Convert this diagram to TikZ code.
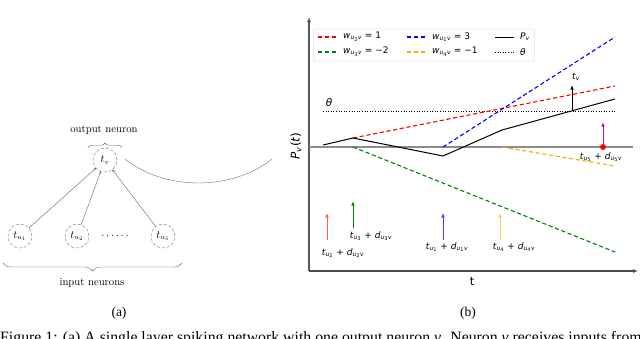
\documentclass[tikz,border=0pt]{standalone}
\usepackage{amsmath}
\usepackage{fontspec}
\usetikzlibrary{arrows.meta,decorations.pathreplacing}
\newfontfamily\dvs{DejaVu Sans}
\newfontfamily\tms{Liberation Serif}
\newcommand\vi[1]{\textit{#1}}
\definecolor{mplgreen}{RGB}{0,128,0}
\definecolor{mplorange}{RGB}{255,165,0}
\definecolor{mplpurple}{RGB}{150,30,170}
\definecolor{mplred}{RGB}{255,0,0}
\definecolor{mplblue}{RGB}{0,0,255}
\tikzset{
  neuron/.style={circle, draw=black!55, densely dashed, thin, minimum size=24pt, inner sep=0pt, font=\fontsize{10.7}{12}\selectfont},
  cmtext/.style={font=\fontsize{10.7}{12}\selectfont, inner sep=0pt},
  syn/.style={draw=black!60, thin, -{To[length=2.5pt,width=2.5pt]}},
  plt/.style={line width=1pt},
  dsh/.style={line width=1.1pt, dash pattern=on 4.2pt off 2.6pt},
  dotl/.style={line width=1pt, dash pattern=on 1pt off 1.6pt},
  ptxt/.style={font=\dvs\fontsize{9}{10}\selectfont, inner sep=0pt},
  parr/.style={line width=0.8pt, -{Latex[length=4.5pt,width=3.5pt]}},
  captxt/.style={font=\tms\fontsize{13.5}{15}\selectfont, inner sep=0pt},
  longcap/.style={font=\tms\fontsize{15.8}{17}\selectfont, inner sep=0pt}
}
\begin{document}
\begin{tikzpicture}[x=1pt,y=-1pt]
\useasboundingbox (0,0) rectangle (640,338);
\clip (0,0) rectangle (640,338);
\fill[white] (0,0) rectangle (640,338);

% ---------- panel (a) ----------
\node[cmtext] (outlbl) at (104,130) {output neuron};
\node[neuron] (tv) at (105,160) {$t_v$};
\node[neuron] (tu1) at (20,236) {$t_{u_1}$};
\node[neuron] (tu2) at (77,236) {$t_{u_2}$};
\node[neuron] (tu5) at (163,236) {$t_{u_5}$};
\node[cmtext] (dots) at (115,236) {$\ldots\ldots$};
\draw[syn] (tu1) -- (tv);
\draw[syn] (tu2) -- (tv);
\draw[syn] (tu5) -- (tv);
\draw[black!60, thin, decorate, decoration={brace, amplitude=4.5pt}] (88,147.5) -- (122,147.5);
\draw[black!60, thin, decorate, decoration={brace, amplitude=8pt}] (182,263) -- (3,263);
\node[cmtext] (inlbl) at (92,283) {input neurons};
\coordinate (arcA) at (125,159);
\coordinate (arcB) at (272,159);
\draw[black!55, thin] (arcA) .. controls (165,191) and (232,191) .. (arcB);

% ---------- panel (b) ----------
% axes
\coordinate (orig) at (309,271);
\coordinate (ytop) at (309,17);
\coordinate (xend) at (638,271);
\draw[black!65, line width=1.1pt, -{Latex[length=5pt,width=4pt]}] (orig) -- (ytop);
\draw[black!70, line width=1.4pt, -{Latex[length=5pt,width=4pt]}] (orig) -- (xend);
\coordinate (z0) at (309,147);
\coordinate (z1) at (633,147);
\draw[black!45, line width=1.4pt] (z0) -- (z1);

% legend box
\node[draw=black!20, rounded corners=2.5pt, fill=white, minimum width=221pt, minimum height=32pt, inner sep=0pt] (leg) at (424,45) {};

% threshold
\coordinate (th0) at (323,111);
\coordinate (th1) at (615,111);
\draw[dotl] (th0) -- (th1);
\node[font=\dvs\fontsize{10.5}{12}\selectfont, inner sep=0pt] (thlbl) at (329,103) {\vi{θ}};

% component lines
\draw[dsh, draw=mplred] (353,138) -- (615,86);
\draw[dsh, draw=mplblue] (443,147) -- (615,37);
\draw[dsh, draw=mplgreen] (353,147) -- (615,252);
\draw[dsh, draw=mplorange] (502,147) -- (615,166);
% membrane potential
\draw[plt, black] (323,145) -- (353,138) -- (443,156) -- (502,130) -- (615,99);

% spike t_v
\coordinate (tvb) at (572,111);
\coordinate (tvt) at (572,85);
\draw[parr, black] (tvb) -- (tvt);
\node[ptxt] (tvlbl) at (576,77) {\vi{t}$_{\vi{v}}$};

% u5 event
\coordinate (u5b) at (603,146);
\coordinate (u5t) at (603,122);
\draw[parr, mplpurple] (u5b) -- (u5t);
\fill[mplred] (603,147) circle (3pt);
\node[ptxt] (u5lbl) at (601,157) {\vi{t}$_{\vi{u}_{\text{5}}}$ + \vi{d}$_{\vi{u}_{\text{5}}\vi{v}}$};

% input arrows
\coordinate (ra) at (327,240); \coordinate (rb) at (327,213);
\draw[parr, mplred!65, line width=0.7pt] (ra) -- (rb);
\node[ptxt] (rlbl) at (343,253) {\vi{t}$_{\vi{u}_{\text{2}}}$ + \vi{d}$_{\vi{u}_{\text{2}}\vi{v}}$};

\coordinate (ga) at (353,228); \coordinate (gb) at (353,201);
\draw[parr, mplgreen] (ga) -- (gb);
\node[ptxt] (glbl) at (371,236) {\vi{t}$_{\vi{u}_{\text{3}}}$ + \vi{d}$_{\vi{u}_{\text{3}}\vi{v}}$};

\coordinate (ba) at (443,240); \coordinate (bb) at (443,213);
\draw[parr, mplblue!75, line width=0.7pt] (ba) -- (bb);
\node[ptxt] (blbl) at (447,247) {\vi{t}$_{\vi{u}_{\text{1}}}$ + \vi{d}$_{\vi{u}_{\text{1}}\vi{v}}$};

\coordinate (oa) at (500,240); \coordinate (ob) at (500,213);
\draw[parr, mplorange!65, line width=0.7pt] (oa) -- (ob);
\node[ptxt] (olbl) at (514,247) {\vi{t}$_{\vi{u}_{\text{4}}}$ + \vi{d}$_{\vi{u}_{\text{4}}\vi{v}}$};

% axis labels
\node[font=\dvs\fontsize{12}{13}\selectfont, inner sep=0pt, rotate=90] (ylbl) at (296,146) {\vi{P}$_{\vi{v}}$(\vi{t})};
\node[font=\dvs\fontsize{11.5}{12}\selectfont, inner sep=0pt] (xlbl) at (472,281) {t};

% legend entries
\draw[dsh, draw=mplred] (318,37) -- (337,37);
\node[ptxt, anchor=west] (l1) at (343,37) {\vi{w}$_{\vi{u}_{\text{2}}\vi{v}}$ = 1};
\draw[dsh, draw=mplblue] (407,37) -- (426,37);
\node[ptxt, anchor=west] (l2) at (432,37) {\vi{w}$_{\vi{u}_{\text{1}}\vi{v}}$ = 3};
\draw[plt, black] (495,37) -- (514,37);
\node[ptxt, anchor=west] (l3) at (520,37) {\vi{P}$_{\vi{v}}$};
\draw[dsh, draw=mplgreen] (318,52) -- (337,52);
\node[ptxt, anchor=west] (l4) at (343,52) {\vi{w}$_{\vi{u}_{\text{3}}\vi{v}}$ = −2};
\draw[dsh, draw=mplorange] (407,52) -- (426,52);
\node[ptxt, anchor=west] (l5) at (432,52) {\vi{w}$_{\vi{u}_{\text{4}}\vi{v}}$ = −1};
\draw[dotl] (495,52) -- (514,52);
\node[ptxt, anchor=west] (l6) at (520,52) {\vi{θ}};

% ---------- captions ----------
\node[captxt] (capa) at (119,313) {(a)};
\node[captxt] (capb) at (468,313) {(b)};
\node[longcap, anchor=base west] (cap) at (0,342) {Figure 1: (a) A single layer spiking network with one output neuron \textit{v}. Neuron \textit{v} receives inputs from};
\end{tikzpicture}
\end{document}
